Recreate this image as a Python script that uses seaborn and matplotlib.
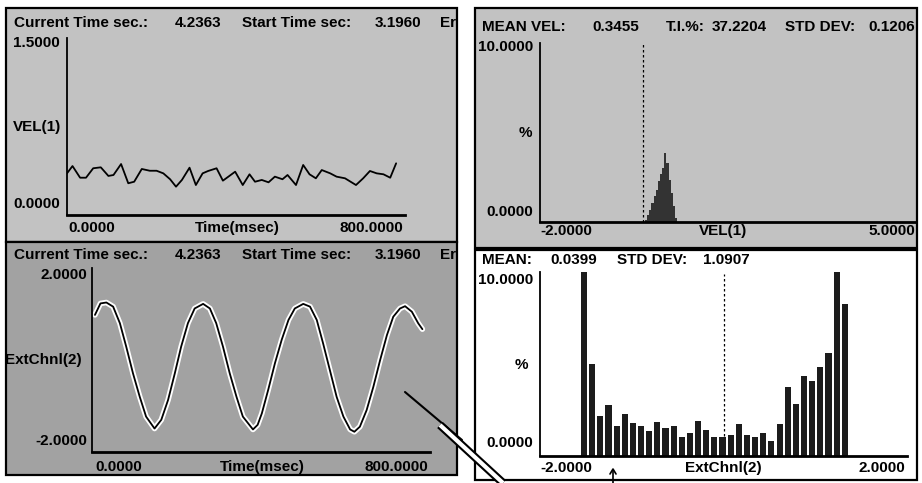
import matplotlib
matplotlib.use("Agg")
import matplotlib.pyplot as plt
import matplotlib.patheffects as pe
from matplotlib.patches import Rectangle
from matplotlib.lines import Line2D
import seaborn as sns

W, H = 922, 483

# Señal VEL(1) en el tiempo (ms)
vel_time = [0, 13, 31, 45, 62, 80, 98, 110, 128, 145, 159, 177, 196, 212, 228,
            244, 258, 272, 290, 305, 321, 334, 354, 369, 382, 398, 416, 432, 445,
            461, 477, 492, 510, 522, 542, 559, 574, 589, 603, 623, 638, 658, 684,
            701, 717, 733, 749, 765, 779]
vel_values = [0.353, 0.415, 0.316, 0.316, 0.396, 0.404, 0.331, 0.339, 0.432, 0.269,
              0.282, 0.390, 0.375, 0.375, 0.353, 0.303, 0.240, 0.297, 0.401, 0.254,
              0.353, 0.373, 0.396, 0.291, 0.325, 0.367, 0.254, 0.345, 0.282, 0.297,
              0.277, 0.325, 0.303, 0.339, 0.254, 0.424, 0.345, 0.311, 0.381, 0.353,
              0.325, 0.311, 0.254, 0.311, 0.373, 0.353, 0.345, 0.316, 0.438]

# Señal ExtChnl(2) en el tiempo (ms)
ext_time = [7, 20, 34, 50, 66, 81, 97, 113, 128, 148, 164, 180, 196, 211, 227,
            243, 263, 279, 294, 310, 326, 342, 357, 381, 392, 402, 417, 433, 449,
            465, 480, 500, 516, 532, 547, 563, 579, 595, 611, 621, 634, 650, 666,
            682, 698, 713, 729, 741, 757, 772, 782]
ext_values = [0.98, 1.23, 1.25, 1.16, 0.80, 0.29, -0.29, -0.80, -1.23, -1.49, -1.30,
              -0.87, -0.29, 0.29, 0.80, 1.12, 1.22, 1.12, 0.80, 0.29, -0.29, -0.80,
              -1.23, -1.51, -1.41, -1.16, -0.65, -0.07, 0.44, 0.87, 1.12, 1.22, 1.16,
              0.87, 0.36, -0.22, -0.80, -1.23, -1.51, -1.56, -1.45, -1.09, -0.58,
              0.00, 0.54, 0.94, 1.12, 1.17, 1.05, 0.80, 0.67]

# Histograma de VEL(1) (%)
vel_bin_centers = [-0.02, 0.02, 0.06, 0.10, 0.14, 0.18, 0.22, 0.26, 0.30, 0.34,
                   0.38, 0.42, 0.46, 0.50, 0.54]
vel_bin_pct = [0.13, 0.41, 0.69, 1.06, 1.43, 1.81, 2.27, 2.68, 3.02, 3.85,
               3.30, 2.36, 1.62, 0.88, 0.22]

# Histograma de ExtChnl(2) (%)
ext_bin_centers = [-1.52, -1.43, -1.34, -1.25, -1.16, -1.07, -0.98, -0.90, -0.81,
                   -0.72, -0.63, -0.54, -0.45, -0.36, -0.27, -0.18, -0.10, -0.01,
                   0.08, 0.17, 0.26, 0.35, 0.44, 0.53, 0.61, 0.70, 0.79, 0.88,
                   0.97, 1.06, 1.15, 1.24, 1.33]
ext_bin_pct = [10.0, 5.0, 2.17, 2.77, 1.63, 2.28, 1.79, 1.63, 1.36, 1.85, 1.52,
               1.63, 1.03, 1.25, 1.90, 1.41, 1.03, 1.03, 1.16, 1.76, 1.14, 1.02,
               1.23, 0.83, 1.72, 3.73, 2.83, 4.35, 4.09, 4.84, 5.58, 9.98, 8.24]

sns.set_style("white")
plt.rcParams['font.family'] = ['Liberation Sans', 'DejaVu Sans']

fig = plt.figure(figsize=(W / 100, H / 100), dpi=100)


def caja(x0, y0, x1, y1):
    return [x0 / W, 1 - y1 / H, (x1 - x0) / W, (y1 - y0) / H]


def panel(x0, y0, x1, y1, color):
    fig.patches.append(Rectangle((x0 / W, 1 - y1 / H), (x1 - x0) / W, (y1 - y0) / H,
                                 transform=fig.transFigure, facecolor=color,
                                 edgecolor='black', lw=1.6, zorder=-1))


def texto(x, y, s, ha='left'):
    fig.text(x / W, 1 - y / H, s, ha=ha, va='center', fontsize=11,
             fontweight='bold', color='black')


def linea(xs, ys, **kw):
    fig.add_artist(Line2D([x / W for x in xs], [1 - y / H for y in ys],
                          transform=fig.transFigure, zorder=5, **kw))


def ejes(x0, y0, x1, y1):
    ax = fig.add_axes(caja(x0, y0, x1, y1))
    ax.set_zorder(1)
    ax.set_facecolor('none')
    for s in ['top', 'right']:
        ax.spines[s].set_visible(False)
    ax.spines['left'].set_linewidth(1.3)
    ax.spines['bottom'].set_linewidth(2)
    ax.spines['left'].set_color('black')
    ax.spines['bottom'].set_color('black')
    return ax


def limpiar(ax):
    ax.set_xticks([])
    ax.set_yticks([])
    ax.set_xlabel('')
    ax.set_ylabel('')


# Paneles de fondo
panel(6, 8, 457, 242, '#c2c2c2')
panel(475, 8, 917, 248, '#c2c2c2')
panel(6, 242, 457, 475, '#a2a2a2')
panel(475, 250, 917, 480, 'white')

# --- Arriba izquierda: VEL(1) vs tiempo
ax1 = ejes(67, 38, 405, 215)
sns.lineplot(x=vel_time, y=vel_values, ax=ax1, color='black', lw=1.3, sort=False)
ax1.set_xlim(0, 800)
ax1.set_ylim(0, 1.5)
limpiar(ax1)

# --- Arriba derecha: histograma VEL(1)
ax2 = ejes(540, 43, 915, 222)
ax2.axvline(-0.07, color='black', lw=0.9, ls=(0, (2, 2)), zorder=0.5)
sns.histplot(x=vel_bin_centers, weights=vel_bin_pct, binwidth=0.04,
             binrange=(-0.04, 0.56), ax=ax2, color='#333333', alpha=1,
             linewidth=0, zorder=2)
ax2.set_xlim(-2, 5)
ax2.set_ylim(0, 10)
limpiar(ax2)

# --- Abajo izquierda: ExtChnl(2) vs tiempo
ax3 = ejes(92, 268, 430, 452)
sns.lineplot(x=ext_time, y=ext_values, ax=ax3, color='black', lw=1.3, sort=False)
ax3.lines[0].set_path_effects([pe.Stroke(linewidth=4, foreground='white'), pe.Normal()])
ax3.set_xlim(0, 800)
ax3.set_ylim(-2, 2)
limpiar(ax3)

# --- Abajo derecha: histograma ExtChnl(2)
ax4 = ejes(540, 272, 907, 456)
ax4.axvline(0, ymax=0.99, color='black', lw=0.9, ls=(0, (2, 2)), zorder=0.5)
sns.histplot(x=ext_bin_centers, weights=ext_bin_pct, binwidth=0.0888,
             binrange=(-1.5644, -1.5644 + 33 * 0.0888), shrink=0.75, ax=ax4,
             color='#1c1c1c', alpha=1, linewidth=0, zorder=2)
ax4.set_xlim(-2, 2)
ax4.set_ylim(0, 10)
limpiar(ax4)

# Textos arriba izquierda
for y in (23, 255):
    texto(14, y, 'Current Time sec.:')
    texto(175, y, '4.2363')
    texto(242, y, 'Start Time sec:')
    texto(375, y, '3.1960')
    texto(440, y, 'Er')
texto(13, 43, '1.5000')
texto(13, 127, 'VEL(1)')
texto(13, 204, '0.0000')
texto(68, 228, '0.0000')
texto(237, 228, 'Time(msec)', ha='center')
texto(403, 228, '800.0000', ha='right')

# Textos arriba derecha
texto(482, 27, 'MEAN VEL:')
texto(592, 27, '0.3455')
texto(666, 27, 'T.I.%:')
texto(712, 27, '37.2204')
texto(785, 27, 'STD DEV:')
texto(915, 27, '0.1206', ha='right')
texto(533, 47, '10.0000', ha='right')
texto(532, 133, '%', ha='right')
texto(533, 212, '0.0000', ha='right')
texto(540, 231, '-2.0000')
texto(723, 231, 'VEL(1)', ha='center')
texto(915, 231, '5.0000', ha='right')

# Textos abajo izquierda
texto(87, 275, '2.0000', ha='right')
texto(5, 360, 'ExtChnl(2)')
texto(87, 441, '-2.0000', ha='right')
texto(95, 467, '0.0000')
texto(262, 467, 'Time(msec)', ha='center')
texto(428, 467, '800.0000', ha='right')

# Textos abajo derecha
texto(482, 260, 'MEAN:')
texto(550, 260, '0.0399')
texto(617, 260, 'STD DEV:')
texto(703, 260, '1.0907')
texto(533, 280, '10.0000', ha='right')
texto(528, 365, '%', ha='right')
texto(533, 443, '0.0000', ha='right')
texto(540, 468, '-2.0000')
texto(723, 468, 'ExtChnl(2)', ha='center')
texto(905, 468, '2.0000', ha='right')

# Puntero dibujado sobre la captura
linea([405, 462], [392, 440], color='black', lw=1.5)
linea([440, 503], [425, 483], color='black', lw=6, solid_capstyle='butt')
linea([440, 503], [425, 483], color='white', lw=3, solid_capstyle='butt')
linea([613, 613], [470, 483], color='black', lw=1.2)
linea([610, 613, 616], [474, 469, 474], color='black', lw=1.2)

fig.savefig('out.png', dpi=100)
plt.close(fig)
